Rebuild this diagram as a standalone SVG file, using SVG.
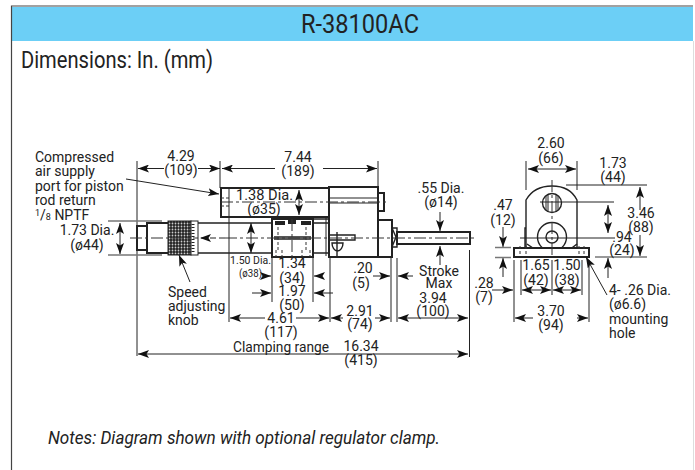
<svg xmlns="http://www.w3.org/2000/svg" width="695" height="470" viewBox="0 0 695 470">
<defs>
<marker id="a" markerWidth="12" markerHeight="8" refX="11" refY="4" orient="auto-start-reverse" markerUnits="userSpaceOnUse"><path d="M0 0L11 4L0 8L2.500 4Z" fill="#111"/></marker>
<pattern id="h" width="3" height="3" patternUnits="userSpaceOnUse"><rect width="3" height="3" fill="#222"/><circle cx="1.500" cy="1.500" r="0.900" fill="#ccc"/></pattern>
</defs>
<style>
text{font-family:Roboto,"Liberation Sans",Arial,sans-serif;fill:#222;font-size:14px}
.m{text-anchor:middle}
.l{stroke:#222;stroke-width:1;fill:none}
.d{stroke:#222;stroke-width:1;fill:none;marker-start:url(#a);marker-end:url(#a)}
.e{stroke:#222;stroke-width:1;fill:none;marker-end:url(#a)}
.g{stroke:#777;stroke-width:1.500;fill:none}
.b{stroke:#222;stroke-width:2;fill:#fff}
.t{stroke:#222;stroke-width:1.400;fill:none}
.c{stroke:#333;stroke-width:1;stroke-dasharray:12 3 3 3;fill:none}
.h{stroke:#333;stroke-width:1;stroke-dasharray:3 2;fill:none}
</style>
<g id="frame">
<rect x="11" y="7" width="682" height="34" fill="#6ccff6"/>
<path d="M11.500 470V6H693" fill="none" stroke="#444" stroke-width="1.200"/>
<path d="M693.500 41V470" stroke="#ddd" fill="none"/>
<text x="301" y="33" style="font-size:26px" textLength="118" lengthAdjust="spacingAndGlyphs">R-38100AC</text>
<text x="21" y="68" style="font-size:23px" textLength="192" lengthAdjust="spacingAndGlyphs">Dimensions: In. (mm)</text>
<text x="48" y="444" style="font-size:17.500px;font-style:italic" textLength="392" lengthAdjust="spacingAndGlyphs">Notes: Diagram shown with optional regulator clamp.</text>
</g>
<g id="side-view">
<rect x="137" y="226" width="10" height="24" class="b"/>
<rect x="147" y="223" width="22" height="30" class="b"/>
<rect x="168" y="221" width="23" height="34" fill="url(#h)" stroke="#222"/>
<rect x="191" y="221" width="7" height="34" fill="#fff" stroke="#222"/>
<path d="M193 224V252" stroke="#222" stroke-width="3" stroke-dasharray="1 2" fill="none"/>
<path d="M198 223H272M198 253H272" class="t"/>
<path d="M221 217V188H329V217H221Z" class="b"/>
<path d="M221 198H229M221 206H229" class="h"/>
<rect x="272" y="219" width="41" height="38" class="b"/>
<path d="M313 223H329M313 253H329M313 219H329" class="t"/>
<rect x="329" y="187" width="49" height="70" class="b"/>
<path d="M329 198H378M329 203H378M326 217V256" class="l"/>
<rect x="378" y="193" width="6" height="18" class="b" stroke-width="1.400"/>
<path d="M378 220H392V257H378Z" class="b"/>
<path d="M392 228H397V247H392ZM392 228L396 237L392 247" class="t" fill="#fff"/>
<rect x="397" y="232" width="73" height="12" class="b"/>
<path d="M330 235H355V240H330" class="t"/>
<path d="M332 243H343A5.500 8 0 0 1 332 243ZM337 232V256" class="t"/>
<path d="M275 221H285V225H275ZM301 221H311V225H301ZM288 219H296V224H288Z" fill="#222"/>
<path d="M274 237H311M274 239H311" class="t"/>
<path d="M278 227V250M306 227V250M276 250V257M282 250V257M302 250V257M310 250V257" class="h"/>
</g>
<g id="end-view">
<path d="M526 247V200Q534 186 552 186Q570 186 577 200V247" class="t" stroke-width="2"/>
<path d="M526 228H525V247" class="t"/>
<circle cx="552" cy="203" r="9.500" class="t"/>
<path d="M546 196V210M548 194V212M556 194V212M558 196V210" class="l"/>
<circle cx="552" cy="237" r="14.500" class="t"/>
<circle cx="552" cy="237" r="6" class="t"/>
<path d="M527 244Q540 254 552 254Q566 254 577 244" class="t"/>
<rect x="514" y="248" width="75" height="9" class="b"/>
<path d="M520 246V256M526 246V256M579 246V256M584 246V256" class="h"/>
<path d="M552 180V258" class="c"/>
</g>
<g id="connectors">
<path d="M137 161V356M220 161V188M378 161V186" class="l"/>
<path d="M164 168.500H138" class="e"/>
<path d="M198 168.500H220" class="e"/>
<path d="M275 168.500H222" class="e"/>
<path d="M323 168.500H377" class="e"/>
<path d="M126 179L219 194" class="e"/>
<path d="M108 221H162M108 255H162" class="g"/>
<path d="M120 223V254" class="d"/>
<path d="M130 238H198" class="c"/>
<path d="M225 238H200" class="e" stroke-dasharray="6 3"/>
<path d="M225 238H477" class="c"/>
<path d="M221 202H387" class="c"/>
<path d="M292 219V258" class="c"/>
<path d="M299 190V215" class="d" stroke-width="1.200"/>
<path d="M251 223V253" class="d"/>
<path d="M229 188V322M272 258V302M313 258V302M330 258V322M391 258V322M397 258V322" class="l"/>
<path d="M263 276H271" class="e"/>
<path d="M321 276H314" class="e"/>
<path d="M252 293H271" class="e"/>
<path d="M333 293H314" class="e"/>
<path d="M373 276H390" class="e"/>
<path d="M413 276H398" class="e"/>
<path d="M265 318H230" class="e"/>
<path d="M296 318H329" class="e"/>
<path d="M343 318H331" class="e"/>
<path d="M375 318H390" class="e"/>
<path d="M398 318H468" class="d"/>
<path d="M469.500 250V357" class="l"/>
<path d="M138 354H468" class="d"/>
<path d="M440 212V231" class="e"/>
<path d="M440 265V246" class="e"/>
<path d="M190 282L179 255" class="e"/>
<path d="M526 161V190M577 161V190" class="l"/>
<path d="M528 169H576" class="d"/>
<path d="M566 185H647" class="l"/>
<path d="M640 210V187" class="e"/>
<path d="M640 235V256" class="e"/>
<path d="M540 202H614M520 238H615" class="l"/>
<path d="M608 205V233" class="d"/>
<path d="M608 278V258" class="e"/>
<path d="M595 257H647" class="g"/>
<path d="M503 227V247" class="e"/>
<path d="M503 277V258" class="e"/>
<path d="M495 247.500H511M495 257.500H511" class="g"/>
<path d="M514 260V322M589 260V322M521 260V295M552 260V295M582 260V295" class="l"/>
<path d="M492 290H513" class="e"/>
<path d="M522 290H551" class="d"/>
<path d="M553 290H581" class="d"/>
<path d="M533 318H515" class="e"/>
<path d="M577 318H588" class="e"/>
<path d="M607 295L586 257" class="e"/>
</g>
<g id="labels">
<text x="35" y="162">Compressed</text>
<text x="35" y="176">air supply</text>
<text x="35" y="191">port for piston</text>
<text x="35" y="205">rod return</text>
<text x="35" y="220"><tspan style="font-size:9px" dy="-4">1</tspan><tspan dy="4">/</tspan><tspan style="font-size:9px">8</tspan> NPTF</text>
<text x="181" y="161" class="m">4.29</text><text x="181" y="175" class="m">(109)</text>
<text x="298" y="162" class="m">7.44</text><text x="298" y="176" class="m">(189)</text>
<text x="236" y="200" textLength="57" lengthAdjust="spacingAndGlyphs">1.38 Dia.</text><text x="264" y="214" class="m">(ø35)</text>
<text x="87" y="235" class="m">1.73 Dia.</text><text x="87" y="250" class="m">(ø44)</text>
<text x="230" y="264" style="font-size:11px" textLength="41" lengthAdjust="spacingAndGlyphs">1.50 Dia.</text><text x="239" y="277" style="font-size:10.500px" textLength="23" lengthAdjust="spacingAndGlyphs">(ø38)</text>
<text x="292" y="268" class="m">1.34</text><text x="292" y="283" class="m">(34)</text>
<text x="292" y="296" class="m">1.97</text><text x="292" y="310" class="m">(50)</text>
<text x="281" y="323" class="m">4.61</text><text x="281" y="337" class="m">(117)</text>
<text x="363" y="273" class="m">.20</text><text x="361" y="288" class="m">(5)</text>
<text x="360" y="316" class="m">2.91</text><text x="360" y="329" class="m">(74)</text>
<text x="168" y="297">Speed</text><text x="168" y="311">adjusting</text><text x="168" y="325">knob</text>
<text x="439" y="276" class="m">Stroke</text><text x="439" y="288" class="m">Max</text>
<text x="433" y="303" class="m">3.94</text><text x="433" y="316" class="m">(100)</text>
<text x="441" y="193" class="m">.55 Dia.</text><text x="441" y="207" class="m">(ø14)</text>
<text x="484" y="288" class="m">.28</text><text x="484" y="302" class="m">(7)</text>
<text x="233" y="352" textLength="96" lengthAdjust="spacingAndGlyphs">Clamping range</text>
<text x="361" y="351" class="m">16.34</text><text x="361" y="365" class="m">(415)</text>
<text x="551" y="148" class="m">2.60</text><text x="551" y="163" class="m">(66)</text>
<text x="613" y="168" class="m">1.73</text><text x="613" y="182" class="m">(44)</text>
<text x="503" y="210" class="m">.47</text><text x="503" y="225" class="m">(12)</text>
<text x="641" y="218" class="m">3.46</text><text x="641" y="232" class="m">(88)</text>
<text x="622" y="242" class="m">.94</text><text x="622" y="255" class="m">(24)</text>
<text x="536" y="270" class="m">1.65</text><text x="536" y="285" class="m">(42)</text>
<text x="567" y="270" class="m">1.50</text><text x="567" y="285" class="m">(38)</text>
<text x="551" y="316" class="m">3.70</text><text x="551" y="330" class="m">(94)</text>
<text x="609" y="295">4- .26 Dia.</text><text x="609" y="309">(ø6.6)</text><text x="609" y="324">mounting</text><text x="609" y="338">hole</text>
</g>
</svg>
